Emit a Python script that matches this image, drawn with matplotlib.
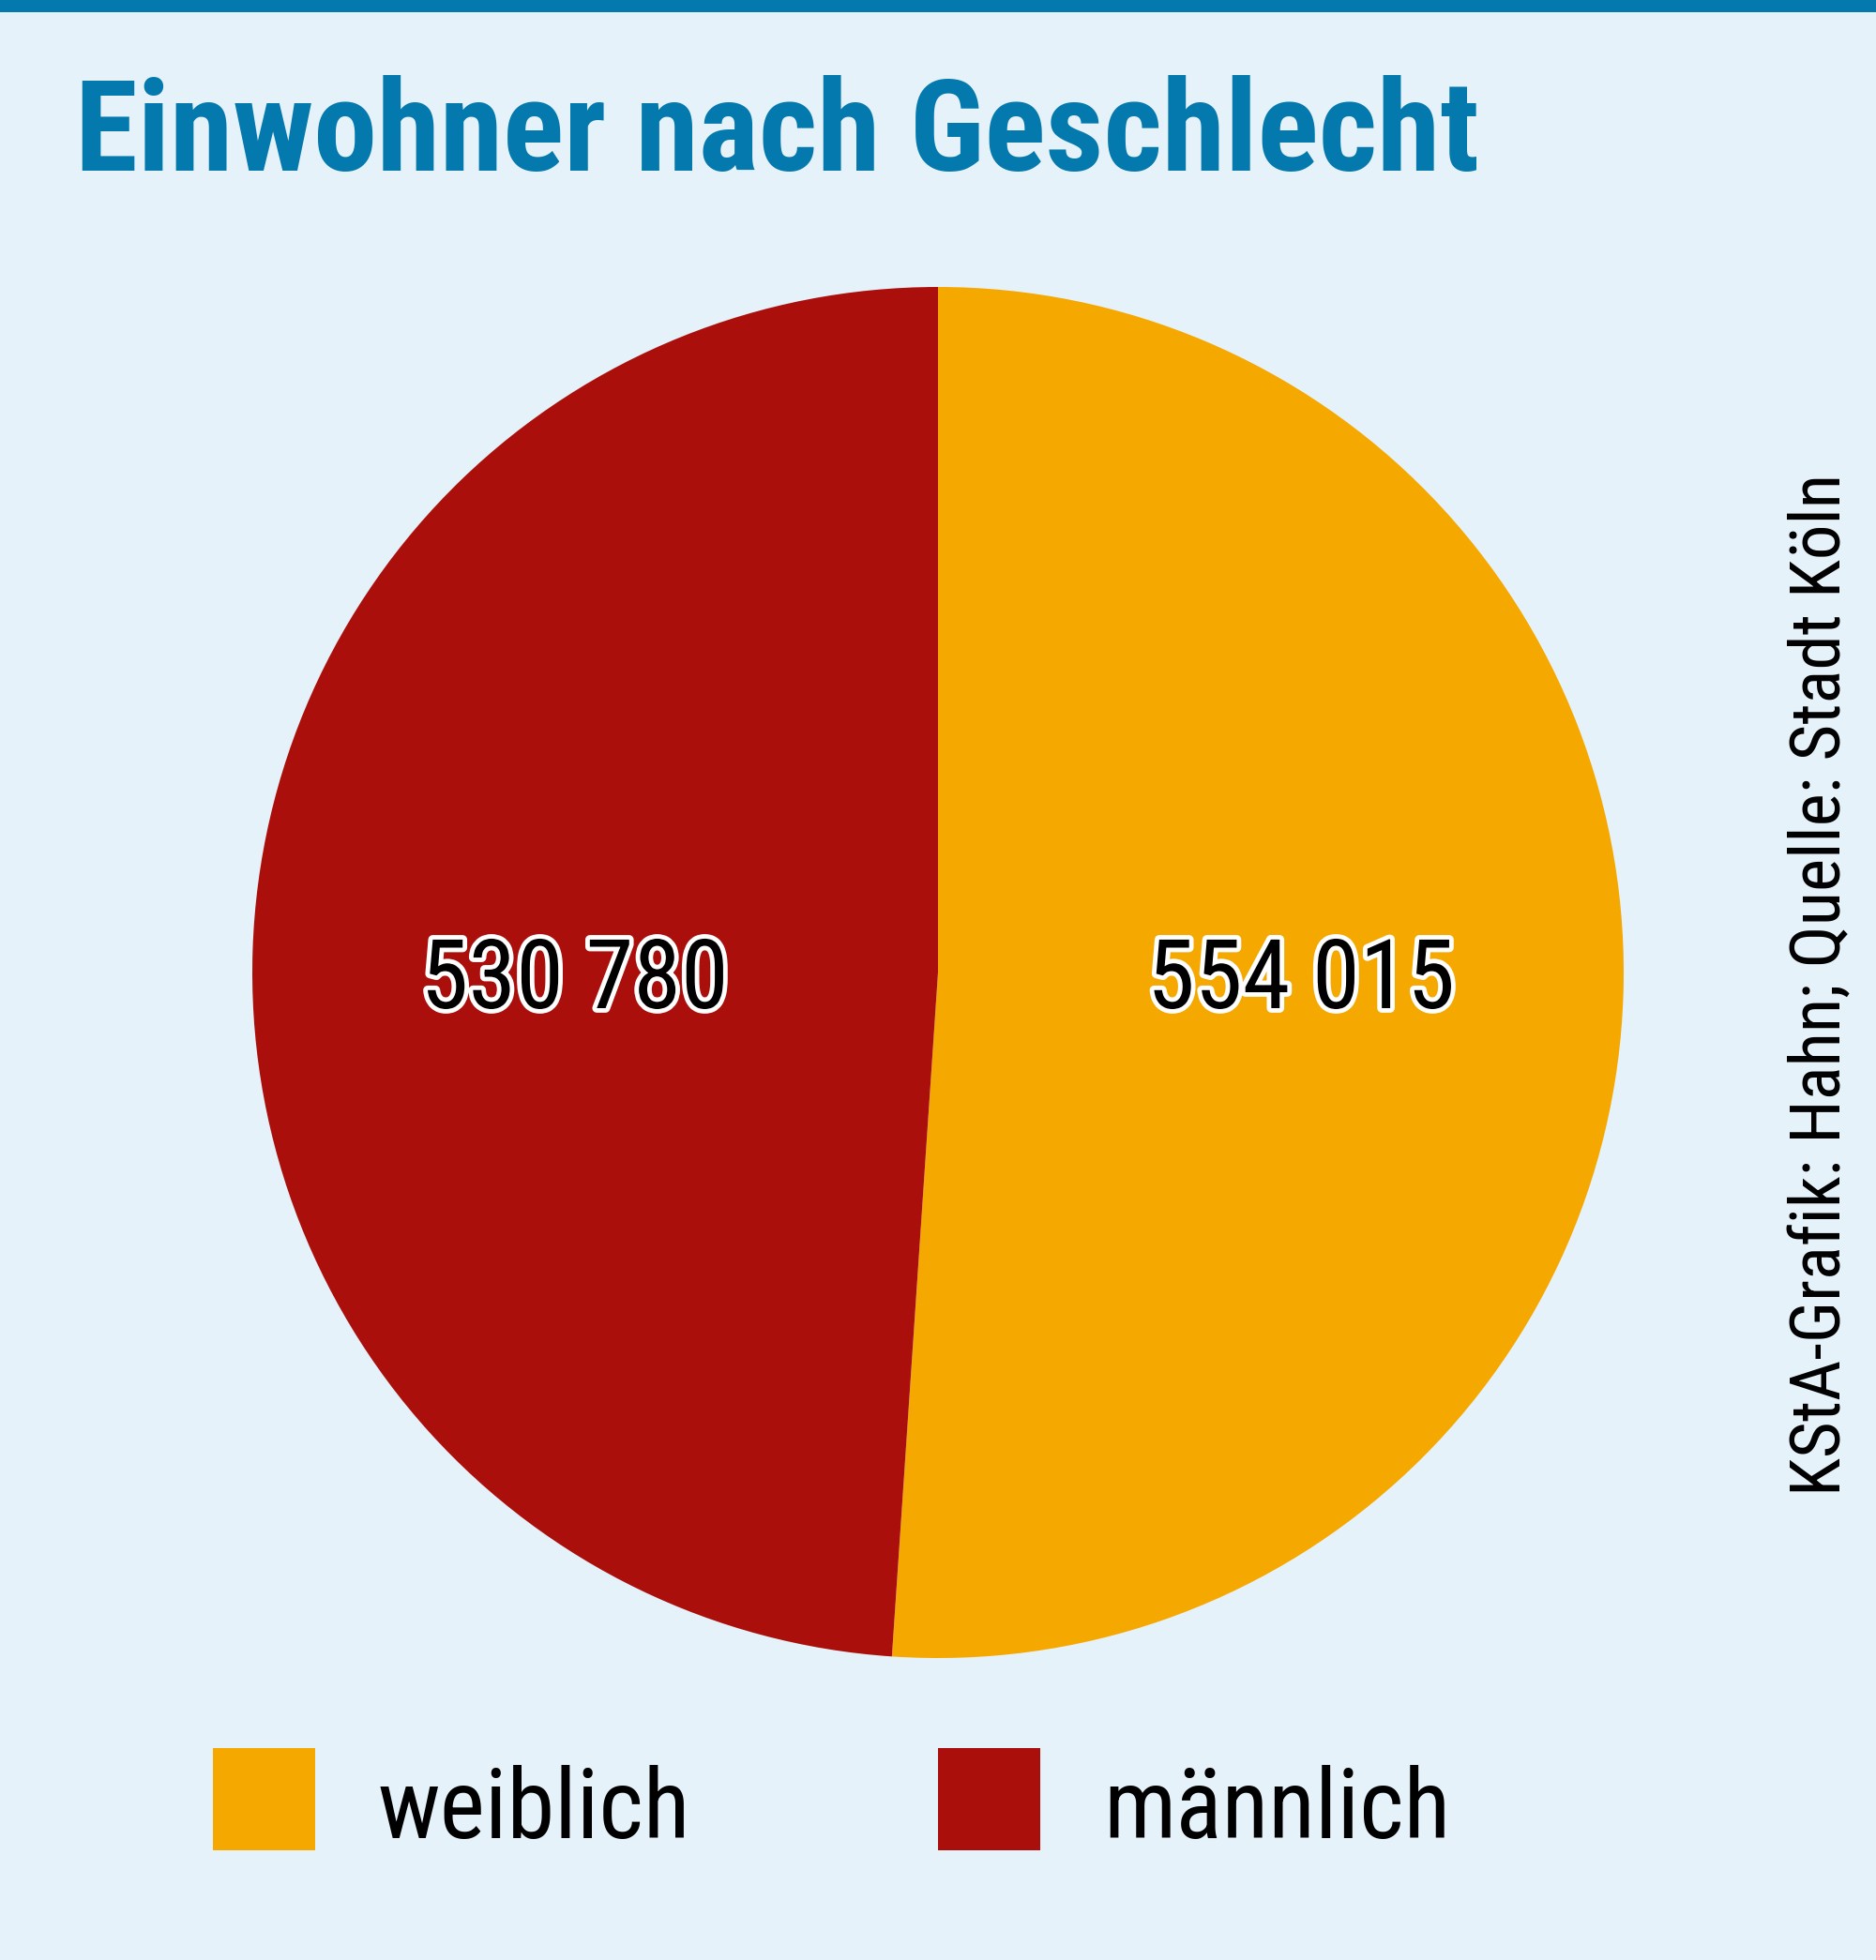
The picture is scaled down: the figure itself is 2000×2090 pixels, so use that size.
import matplotlib.pyplot as plt
import matplotlib.patheffects as pe
from matplotlib.patches import Rectangle
from matplotlib import font_manager

# data
kategorien = ["weiblich", "männlich"]
einwohner = [554015, 530780]
labels = ["554 015", "530 780"]
farben = ["#F5A800", "#AA0F0B"]

titel = "Einwohner nach Geschlecht"
quelle = "KStA-Grafik: Hahn; Quelle: Stadt Köln"

hintergrund = "#E6F2FA"
blau = "#0479AE"

namen = {f.name for f in font_manager.fontManager.ttflist}
schmal = [n for n in ["Liberation Sans Narrow", "Roboto Condensed", "Open Sans Condensed"] if n in namen]
schrift = schmal + ["Liberation Sans", "DejaVu Sans"]

W, H = 2000, 2090
fig = plt.figure(figsize=(W / 100, H / 100), dpi=100, facecolor=hintergrund)

# blauer Balken oben
fig.add_artist(Rectangle((0, 1 - 13 / H), 1, 13 / H, transform=fig.transFigure,
                         color=blau, lw=0))

fig.text(80 / W, 1 - 182 / H, titel, fontsize=98, fontweight="bold", color=blau,
         family=schrift, ha="left", va="baseline")

# Torte
cx, cy, r = 1000, 1037, 731
ax = fig.add_axes([(cx - r) / W, (H - cy - r) / H, 2 * r / W, 2 * r / H])
ax.set_facecolor(hintergrund)
wedges, texte = ax.pie(einwohner, colors=farben, startangle=90, counterclock=False,
                       labels=labels, labeldistance=0.53,
                       wedgeprops=dict(linewidth=0),
                       textprops=dict(fontsize=74, color="black", family=schrift,
                                      ha="center", va="center"))
for t in texte:
    # beide Zahlen auf gleicher Höhe
    t.set_y(-0.013)
    t.set_path_effects([pe.withStroke(linewidth=7, foreground="white")])
ax.set_xlim(-1, 1)
ax.set_ylim(-1, 1)
ax.set_aspect("equal")
ax.axis("off")

# Legende
lx = [227, 1000]
for i, name in enumerate(kategorien):
    fig.add_artist(Rectangle((lx[i] / W, 1 - 1973 / H), 109 / W, 109 / H,
                             transform=fig.transFigure, color=farben[i], lw=0))
    fig.text((lx[i] + 176) / W, 1 - 1960 / H, name, fontsize=74, color="black",
             family=schrift, ha="left", va="baseline")

fig.text(1942 / W, 1 - 1050 / H, quelle, fontsize=54, color="black", family=schrift,
         rotation=90, ha="center", va="center")

fig.savefig("out.png", dpi=100, facecolor=hintergrund)
